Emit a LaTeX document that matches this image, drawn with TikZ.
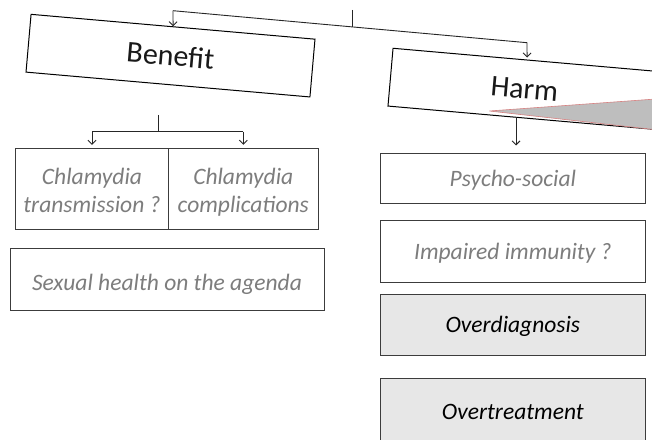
\documentclass[tikz,border=0pt]{standalone}
\usepackage{fontspec}
\setmainfont{Carlito}
\usetikzlibrary{arrows.meta}
\definecolor{txtgrey}{RGB}{125,125,125}
\definecolor{boxgrey}{RGB}{231,231,231}
\definecolor{edgegrey}{RGB}{60,60,60}
\definecolor{wedgefill}{RGB}{190,190,190}
\definecolor{wedgeedge}{RGB}{215,130,130}
\begin{document}
\begin{tikzpicture}[x=1pt,y=1pt,
  tilt/.style={draw=black, line width=1pt, rotate=-5, minimum width=#1,
    minimum height=58pt, inner sep=0pt, text=black!90,
    font=\fontsize{30}{36}\selectfont, text height=22pt, text depth=2pt},
  cell/.style={draw=edgegrey, line width=1pt, inner sep=0pt, align=center,
    font=\fontsize{23.5}{28}\selectfont\itshape, text=txtgrey},
  onecell/.style={cell, text height=17.5pt, text depth=2.5pt},
  shaded/.style={fill=boxgrey, text=black},
  conn/.style={line width=0.9pt, draw=black!85},
  arr/.style={conn, -{Straight Barb[length=4pt,width=8pt]}},
]
\useasboundingbox (0,0) rectangle (652,439);
\clip (0,0) rectangle (652,439);
\fill[white] (0,0) rectangle (652,439);

% tilted top level
\node[tilt=285pt] (Benefit) at (170.5,383.35) {Benefit};
\node[tilt=269pt] (Harm) at (524.5,350.1) {Harm};
\filldraw[fill=wedgefill, draw=wedgeedge, line width=0.6pt]
  (489.3,328) -- (660,340.3) -- (660,308.8) -- cycle;

% top connector
\coordinate (tt) at (352,429);
\coordinate (tb) at (352,412.1);
\coordinate (bl) at (173,428.3);
\coordinate (hr) at (527,396.3);
\draw[conn] (tt) -- (tb);
\draw[conn] (bl) -- (hr);
\draw[arr] (bl) -- (Benefit.north);
\draw[arr, shorten >=2pt] (hr) -- (Harm.north);

% benefit column
\node[cell, minimum width=152.6pt, minimum height=81pt] (ct) at (92,250.2)
  {\rule{0pt}{28.8pt}Chlamydia\\transmission ?\strut};
\node[cell, minimum width=150pt, minimum height=81pt] (cc) at (243.3,250.2)
  {\rule{0pt}{28.8pt}Chlamydia\\complications\strut};
\node[cell, minimum width=314pt, minimum height=62.4pt, text height=21pt, text depth=0pt] (sx) at (167,159.5)
  {Sexual health on the agenda};

\coordinate (bt) at (158,324);
\coordinate (bm) at (158,307.3);
\coordinate (bL) at (92,307.3);
\coordinate (bR) at (243.3,307.3);
\draw[conn] (bt) -- (bm);
\draw[conn] (bL) -- (bR);
\draw[arr, shorten >=3pt] (bL) -- (ct.north);
\draw[arr, shorten >=3pt] (bR) -- (cc.north);

% harm column
\node[onecell, minimum width=264.3pt, minimum height=50pt] (ps) at (512.85,260) {Psycho-social};
\node[onecell, minimum width=264.3pt, minimum height=61.3pt] (im) at (512.85,187.35) {Impaired immunity ?};
\node[onecell, shaded, minimum width=264.3pt, minimum height=61.7pt] (od) at (512.85,114.15) {Overdiagnosis};
\node[onecell, shaded, minimum width=264.3pt, minimum height=66.7pt] (ot) at (512.85,27.35) {Overtreatment};

\coordinate (ha) at (516,322);
\draw[arr, shorten >=8pt] (ha) -- (ha |- ps.north);
\end{tikzpicture}
\end{document}
